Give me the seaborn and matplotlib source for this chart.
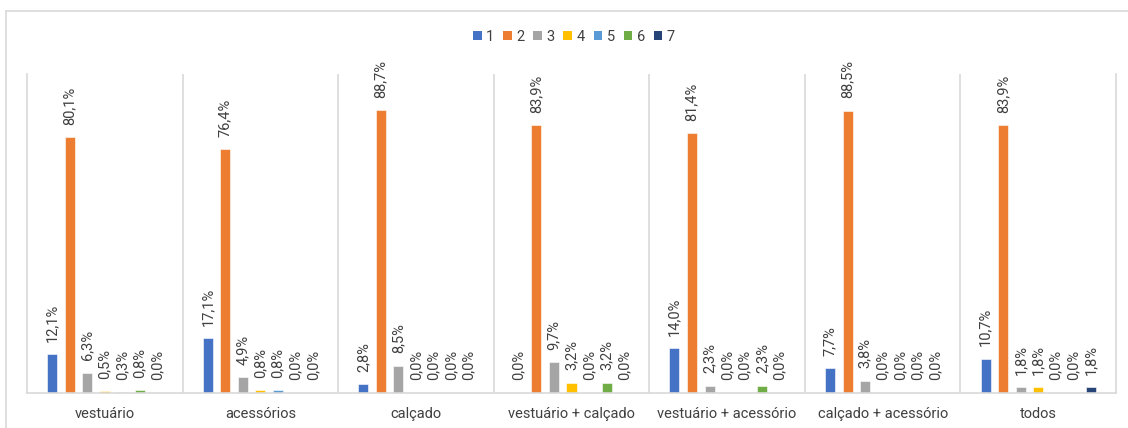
import matplotlib
matplotlib.use("Agg")
import matplotlib.pyplot as plt
from matplotlib.lines import Line2D
from matplotlib.patches import Patch
import seaborn as sns
import pandas as pd

categories = ["vestuário", "acessórios", "calçado", "vestuário + calçado",
              "vestuário + acessório", "calçado + acessório", "todos"]
series = ["1", "2", "3", "4", "5", "6", "7"]

s1 = [12.1, 17.1, 2.8, 0.0, 14.0, 7.7, 10.7]
s2 = [80.1, 76.4, 88.7, 83.9, 81.4, 88.5, 83.9]
s3 = [6.3, 4.9, 8.5, 9.7, 2.3, 3.8, 1.8]
s4 = [0.5, 0.8, 0.0, 3.2, 0.0, 0.0, 1.8]
s5 = [0.3, 0.8, 0.0, 0.0, 0.0, 0.0, 0.0]
s6 = [0.8, 0.0, 0.0, 3.2, 2.3, 0.0, 0.0]
s7 = [0.0, 0.0, 0.0, 0.0, 0.0, 0.0, 1.8]
values = [s1, s2, s3, s4, s5, s6, s7]

colors = ["#4472C4", "#ED7D31", "#A5A5A5", "#FFC000", "#5B9BD5", "#70AD47", "#264478"]

rows = []
for name, vals in zip(series, values):
    for cat, v in zip(categories, vals):
        rows.append({"categoria": cat, "serie": name, "valor": v})
df = pd.DataFrame(rows)

sns.set_theme(style="white")
plt.rcParams["font.family"] = ["Roboto", "DejaVu Sans"]
plt.rcParams["text.color"] = "#404040"

fig = plt.figure(figsize=(11.28, 4.28), dpi=100)
ax = fig.add_axes([27 / 1128, 1 - 393 / 428, (1116 - 27) / 1128, (393 - 74) / 428])

sns.barplot(data=df, x="categoria", y="valor", hue="serie", order=categories,
            hue_order=series, palette=colors, width=0.79, gap=0.43,
            saturation=1, ax=ax, legend=False, errorbar=None,
            edgecolor="white", linewidth=0.4)

for cont, vals in zip(ax.containers, values):
    labels = [f"{v:.1f}%".replace(".", ",") for v in vals]
    ax.bar_label(cont, labels=labels, padding=9, rotation=90,
                 fontsize=10.5, color="#404040")

ax.set_ylim(0, 100)
ax.set_xlim(-0.5, len(categories) - 0.5)
ax.set_yticks([])
ax.set_xlabel("")
ax.set_ylabel("")
ax.tick_params(axis="x", length=0, pad=10, labelsize=10.5, labelcolor="#404040")

for sp in ["left", "right", "bottom"]:
    ax.spines[sp].set_color("#D9D9D9")
    ax.spines[sp].set_linewidth(1.2)
ax.spines["top"].set_visible(False)

for b in range(1, len(categories)):
    ax.axvline(b - 0.5, color="#D9D9D9", linewidth=1.2, zorder=0)

handles = [Patch(facecolor=c, edgecolor="none") for c in colors]
fig.legend(handles, series, loc="center", bbox_to_anchor=(574 / 1128, 1 - 37 / 428),
           ncol=7, frameon=False, fontsize=10.5, handlelength=0.6, handleheight=0.6,
           handletextpad=0.3, columnspacing=0.6)

# outer chart frame
fig.add_artist(Line2D([6 / 1128, 1.0], [1 - 11 / 428, 1 - 11 / 428],
                      color="#D9D9D9", linewidth=1.2))
fig.add_artist(Line2D([6 / 1128, 6 / 1128], [0.0, 1 - 11 / 428],
                      color="#D9D9D9", linewidth=1.2))

fig.savefig("out.png", dpi=100)
